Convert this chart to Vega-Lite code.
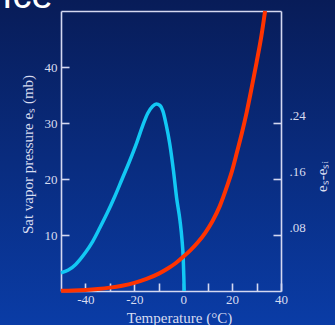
{
  "$schema": "https://vega.github.io/schema/vega-lite/v6.json",
  "width": 335,
  "height": 325,
  "autosize": {"type": "none"},
  "padding": 0,
  "background": "#072a7c",
  "title": {"text": "Ice", "anchor": "start", "frame": "group", "orient": "top", "offset": -46, "dx": 2, "baseline": "alphabetic", "fontSize": 38, "font": "Liberation Sans", "fontWeight": "normal", "color": "#ffffff", "zindex": 2},
  "datasets": {
    "es": [
      {"T": -50, "es": 0.05}, {"T": -45, "es": 0.1}, {"T": -40, "es": 0.2}, {"T": -35, "es": 0.36},
      {"T": -30, "es": 0.6}, {"T": -25, "es": 0.95}, {"T": -20, "es": 1.45}, {"T": -15, "es": 2.15},
      {"T": -10, "es": 3.1}, {"T": -6, "es": 4.1}, {"T": -3, "es": 5.0}, {"T": 0, "es": 6.1},
      {"T": 3, "es": 7.3}, {"T": 6, "es": 8.7}, {"T": 9, "es": 10.4}, {"T": 12, "es": 12.5},
      {"T": 15, "es": 15.2}, {"T": 18, "es": 18.8}, {"T": 20, "es": 21.5}, {"T": 22, "es": 24.8},
      {"T": 24, "es": 28.2}, {"T": 26, "es": 32.0}, {"T": 28, "es": 36.3}, {"T": 30, "es": 40.8},
      {"T": 32, "es": 45.6}, {"T": 33.5, "es": 50}
    ],
    "diff": [
      {"T": -50, "d": 0.026}, {"T": -47, "d": 0.030}, {"T": -44, "d": 0.038}, {"T": -42, "d": 0.046},
      {"T": -40, "d": 0.055}, {"T": -37, "d": 0.071}, {"T": -34, "d": 0.091}, {"T": -31, "d": 0.112},
      {"T": -28, "d": 0.135}, {"T": -25, "d": 0.16}, {"T": -22, "d": 0.185}, {"T": -19, "d": 0.212},
      {"T": -16.5, "d": 0.237}, {"T": -14.5, "d": 0.254}, {"T": -12.5, "d": 0.264}, {"T": -11, "d": 0.267},
      {"T": -9.5, "d": 0.265}, {"T": -8.3, "d": 0.257}, {"T": -7, "d": 0.238}, {"T": -5.5, "d": 0.21},
      {"T": -4, "d": 0.172}, {"T": -2.7, "d": 0.133}, {"T": -1.3, "d": 0.1}, {"T": -0.5, "d": 0.073},
      {"T": 0, "d": 0.047}, {"T": 0.25, "d": 0.02}, {"T": 0.4, "d": 0}
    ]
  },
  "layer": [
    {
      "data": {"name": "diff"},
      "mark": {"type": "line", "color": "#12c8f4", "strokeWidth": 3.5, "interpolate": "monotone"},
      "encoding": {
        "x": {"field": "T", "type": "quantitative",
              "scale": {"domain": [-50, 40], "range": [61, 281], "nice": false, "zero": false},
              "axis": {"orient": "top", "offset": -11, "ticks": false, "labels": false, "title": null}},
        "y": {"field": "d", "type": "quantitative",
              "scale": {"domain": [0, 0.4], "range": [291, 11], "nice": false, "zero": false},
              "axis": {"orient": "right", "offset": -54, "values": [0.08, 0.16, 0.24], "tickSize": -8, "labelPadding": 16, "labelOffset": -8, "labelAlign": "left",
                       "labelExpr": "substring(format(datum.value, '.2f'), 1)",
                       "title": "eₛ-eₛᵢ", "titleAngle": -90, "titleX": 40, "titleY": 176, "titleBaseline": "middle", "titleAlign": "center"}}
      }
    },
    {
      "data": {"name": "es"},
      "mark": {"type": "line", "color": "#ff3300", "strokeWidth": 4, "interpolate": "monotone"},
      "encoding": {
        "x": {"field": "T", "type": "quantitative",
              "scale": {"domain": [-50, 40], "range": [61, 281], "nice": false, "zero": false},
              "axis": {"orient": "bottom", "offset": -34, "values": [-40, -30, -20, -10, 0, 10, 20, 30, 40], "tickSize": -8, "labelPadding": 10,
                       "labelExpr": "datum.value % 20 == 0 ? toString(datum.value) : ''",
                       "title": "Temperature (°C)", "titleX": 179, "titleY": 26, "titleBaseline": "middle", "titleAlign": "center"}},
        "y": {"field": "es", "type": "quantitative",
              "scale": {"domain": [0, 50], "range": [291, 11], "nice": false, "zero": false},
              "axis": {"orient": "left", "offset": -61, "values": [10, 20, 30, 40], "tickSize": -8, "labelPadding": 12,
                       "title": "Sat vapor pressure eₛ (mb)", "titleAngle": -90, "titleX": -34, "titleY": 154, "titleBaseline": "middle", "titleAlign": "center"}}
      }
    }
  ],
  "resolve": {"scale": {"y": "independent"}, "axis": {"x": "independent", "y": "independent"}},
  "config": {
    "view": {"stroke": null, "fill": {"gradient": "linear", "x1": 0, "y1": 0, "x2": 0, "y2": 1, "stops": [{"offset": 0, "color": "#081c58"}, {"offset": 1, "color": "#0a3ca6"}]}},
    "axis": {
      "grid": false, "domainColor": "#d4d8f0", "domainWidth": 1.6, "tickColor": "#d4d8f0", "tickWidth": 1.6,
      "labelColor": "#d8dcf0", "labelFont": "Liberation Serif", "labelFontSize": 13, "labelFlush": false, "labelOverlap": false,
      "titleColor": "#d8dcf0", "titleFont": "Liberation Serif", "titleFontSize": 15, "titleFontWeight": "normal"
    }
  }
}
